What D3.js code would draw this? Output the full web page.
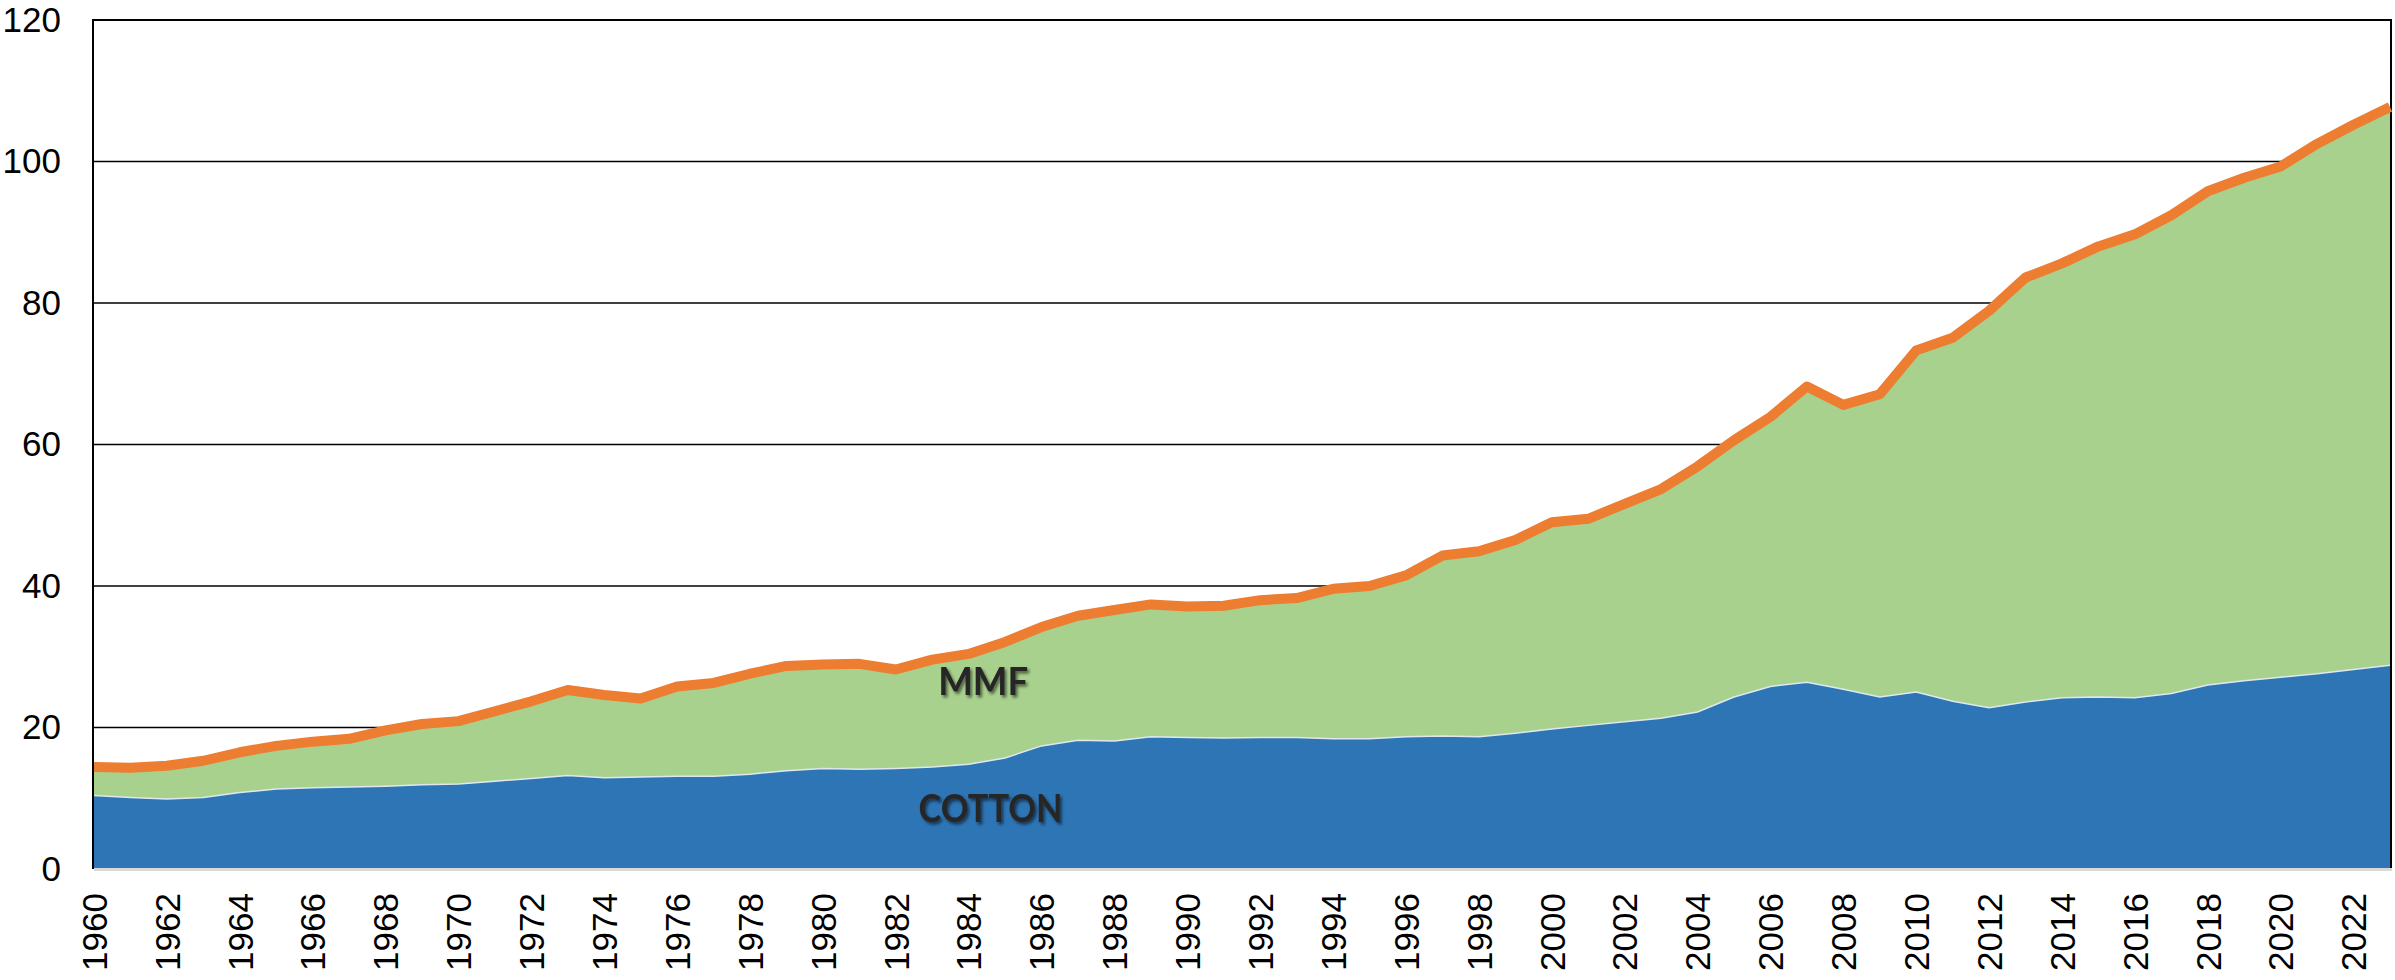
<!DOCTYPE html>
<html>
<head>
<meta charset="utf-8">
<script src="https://cdn.jsdelivr.net/npm/d3@7"></script>
<style>
  html, body { margin: 0; padding: 0; background: #ffffff; }
  svg { display: block; }
</style>
</head>
<body>
<svg id="chart" width="2395" height="980"></svg>
<script>
const years = d3.range(1960, 2024);
const cotton = [
  10.4, 10.1, 9.9, 10.1, 10.8, 11.3, 11.5, 11.6, 11.7, 11.9,
  12.0, 12.4, 12.8, 13.2, 12.9, 13.0, 13.1, 13.1, 13.4, 13.9,
  14.2, 14.1, 14.2, 14.4, 14.8, 15.7, 17.4, 18.2, 18.1, 18.7,
  18.6, 18.5, 18.6, 18.6, 18.4, 18.4, 18.7, 18.8, 18.7, 19.2,
  19.8, 20.3, 20.8, 21.3, 22.2, 24.3, 25.8, 26.4, 25.4, 24.3,
  25.0, 23.7, 22.8, 23.6, 24.2, 24.3, 24.2, 24.8, 26.0, 26.6,
  27.1, 27.6, 28.2, 28.8
];
const mmf = [
  4.0, 4.2, 4.7, 5.2, 5.7, 6.1, 6.5, 6.8, 7.9, 8.6,
  8.9, 9.9, 10.9, 12.1, 11.7, 11.1, 12.7, 13.2, 14.2, 14.8,
  14.7, 14.9, 14.0, 15.2, 15.6, 16.4, 16.8, 17.6, 18.5, 18.7,
  18.5, 18.7, 19.4, 19.7, 21.2, 21.6, 22.8, 25.5, 26.2, 27.3,
  29.2, 29.2, 30.8, 32.4, 34.7, 36.3, 38.1, 41.8, 40.2, 42.8,
  48.3, 51.4, 56.1, 60.0, 61.4, 63.7, 65.5, 67.6, 69.8, 71.1,
  72.2, 74.9, 77.0, 78.9
];
const yTicks = [0, 20, 40, 60, 80, 100, 120];
const xTicks = d3.range(1960, 2023, 2);
const seriesNames = ["COTTON", "MMF"];

const plotL = 94, plotR = 2390, plotT = 20, plotB = 869;
const svg = d3.select("#chart");

const x = d3.scaleLinear().domain([1960, 2023]).range([plotL, plotR]);
const y = d3.scaleLinear().domain([0, 120]).range([plotB, plotT]);

const rows = years.map((yr, i) => ({ year: yr, COTTON: cotton[i], MMF: mmf[i] }));
const stacked = d3.stack().keys(seriesNames)(rows);

// defs: text shadow
const defs = svg.append("defs");
const f = defs.append("filter").attr("id", "shadow").attr("x", "-10%").attr("y", "-20%").attr("width", "130%").attr("height", "150%");
f.append("feDropShadow").attr("dx", 2).attr("dy", 2.5).attr("stdDeviation", 1.6)
  .attr("flood-color", "#000").attr("flood-opacity", 0.55);

// gridlines
svg.append("g").selectAll("line")
  .data(yTicks.filter(v => v > 0))
  .join("line")
  .attr("x1", plotL).attr("x2", plotR)
  .attr("y1", d => y(d)).attr("y2", d => y(d))
  .attr("stroke", "#000").attr("stroke-width", d => d === 120 ? 2 : 1.6);

// left & right borders
svg.append("line").attr("x1", plotL - 1).attr("x2", plotL - 1).attr("y1", plotT - 1).attr("y2", plotB)
  .attr("stroke", "#000").attr("stroke-width", 2);
svg.append("line").attr("x1", plotR + 1).attr("x2", plotR + 1).attr("y1", plotT - 1).attr("y2", plotB)
  .attr("stroke", "#000").attr("stroke-width", 2);

// areas
const area = d3.area()
  .x(d => x(d.data.year))
  .y0(d => y(d[0]))
  .y1(d => y(d[1]));
const colors = { COTTON: "#2E75B6", MMF: "#A9D18E" };
svg.append("g").selectAll("path")
  .data(stacked.slice().reverse())
  .join("path")
  .attr("d", area)
  .attr("fill", d => colors[d.key]);

// thin light boundary on top of cotton
const cottonLine = d3.line().x(d => x(d.data.year)).y(d => y(d[1]));
svg.append("path").attr("d", cottonLine(stacked[0]))
  .attr("fill", "none").attr("stroke", "#dfe8f1").attr("stroke-width", 1.5);

// x axis baseline (gray)
svg.append("line").attr("x1", plotL).attr("x2", plotR + 2).attr("y1", plotB + 0.5).attr("y2", plotB + 0.5)
  .attr("stroke", "#d9d9d9").attr("stroke-width", 3);

// total line
const totalLine = d3.line().x(d => x(d.data.year)).y(d => y(d[1]));
svg.append("path").attr("d", totalLine(stacked[1]))
  .attr("fill", "none").attr("stroke", "#ED7D31").attr("stroke-width", 10)
  .attr("stroke-linejoin", "round");

// y axis labels
const yAxis = d3.axisLeft(y).tickValues(yTicks).tickSize(0).tickPadding(33).tickFormat(d3.format("d"));
const gy = svg.append("g").attr("transform", `translate(${plotL},0)`).call(yAxis);
gy.select(".domain").remove();
gy.selectAll("text").attr("font-family", "'Liberation Sans', Arial, sans-serif")
  .attr("font-size", 35).attr("fill", "#000");

// x axis labels
const xAxis = d3.axisBottom(x).tickValues(xTicks).tickSize(0).tickFormat(d3.format("d"));
const gx = svg.append("g").attr("transform", `translate(0,${plotB})`).call(xAxis);
gx.select(".domain").remove();
gx.selectAll("text")
  .attr("font-family", "'Liberation Sans', Arial, sans-serif")
  .attr("font-size", 35).attr("fill", "#000")
  .attr("text-anchor", "end")
  .attr("transform", "rotate(-90)")
  .attr("x", -24).attr("y", 0).attr("dy", "0.35em");

// series labels
const labelData = [
  { key: "MMF", year: 1984.4, val: 24.6, len: 90 },
  { key: "COTTON", year: 1984.6, val: 6.6, len: 144 }
];
svg.append("g").selectAll("text")
  .data(labelData)
  .join("text")
  .attr("x", d => x(d.year)).attr("y", d => y(d.val))
  .attr("text-anchor", "middle")
  .attr("font-family", "Lato, 'Open Sans', sans-serif")
  .attr("font-weight", "bold")
  .attr("font-size", 38)
  .attr("textLength", d => d.len)
  .attr("lengthAdjust", "spacingAndGlyphs")
  .attr("fill", "#262626")
  .attr("filter", "url(#shadow)")
  .text(d => d.key);
</script>
</body>
</html>
